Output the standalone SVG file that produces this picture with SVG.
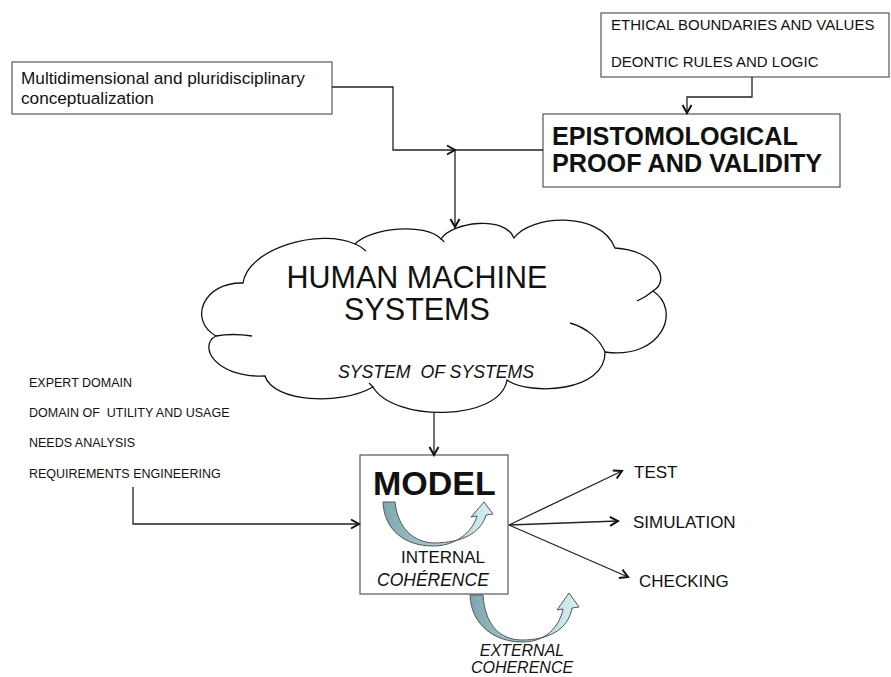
<svg xmlns="http://www.w3.org/2000/svg" width="891" height="677" viewBox="0 0 891 677">
<style>
  text { font-family: "Liberation Sans", Arial, sans-serif; fill: #111; }
  .box { fill: #fff; stroke: #555; stroke-width: 1.2; }
  .conn { fill: none; stroke: #222; stroke-width: 1.3; }
  .cloud { fill: #fff; stroke: #111; stroke-width: 1.3; }
  .tail { fill: none; stroke: #111; stroke-width: 1.3; }
  .carrow { stroke: #555; stroke-width: 1; }
</style>
<defs>
  <marker id="ah" markerUnits="userSpaceOnUse" markerWidth="12" markerHeight="12" viewBox="0 0 12 12" refX="10" refY="6" orient="auto">
    <path d="M2,1.5 L10,6 L2,10.5" fill="none" stroke="#111" stroke-width="2"/>
  </marker>
  <linearGradient id="gb" x1="0" y1="0" x2="1" y2="0">
    <stop offset="0" stop-color="#7fa6ae"/>
    <stop offset="0.5" stop-color="#a9cdd3"/>
    <stop offset="1" stop-color="#d8f0f4"/>
  </linearGradient>
</defs>

<g id="ethical">
  <rect class="box" x="601" y="13" width="288" height="64"/>
  <text x="611" y="30" font-size="15">ETHICAL BOUNDARIES AND VALUES</text>
  <text x="611" y="67" font-size="15">DEONTIC RULES AND LOGIC</text>
</g>

<g id="multidim">
  <rect class="box" x="12" y="62" width="320" height="52"/>
  <text x="21" y="84" font-size="17.2">Multidimensional and pluridisciplinary</text>
  <text x="21" y="104" font-size="17.2">conceptualization</text>
</g>

<g id="epistemo">
  <rect class="box" x="543" y="114" width="297" height="73"/>
  <text x="552" y="145" font-size="25.2" font-weight="bold">EPISTOMOLOGICAL</text>
  <text x="552" y="172" font-size="25.2" font-weight="bold">PROOF AND VALIDITY</text>
</g>

<g id="cloud">
  <path class="cloud" d="M243,283 C248,248 320,228 355,244 C370,228 425,222 441,239 C452,222 505,215 514,238 C530,215 600,210 615,248 C655,250 672,280 653,291 C682,310 662,360 605,352 C606,392 530,396 507,380 C500,422 393,422 373,387 C340,406 273,402 265,376 C214,378 198,345 216,336 C188,320 203,282 243,283 Z"/>
  <path class="tail" d="M355,244 Q361,246 366,251"/>
  <path class="tail" d="M441,239 Q443,240 444,242"/>
  <path class="tail" d="M653,291 Q646,297 637,301"/>
  <path class="tail" d="M570,323 C588,328 600,340 605,352"/>
  <path class="tail" d="M373,387 Q371,385 369,383"/>
  <path class="tail" d="M216,336 Q232,333 252,336"/>
  <text x="417" y="288" font-size="30.5" text-anchor="middle">HUMAN MACHINE</text>
  <text x="417" y="320" font-size="30.5" text-anchor="middle">SYSTEMS</text>
  <text x="436" y="378" font-size="17.7" font-style="italic" text-anchor="middle" style="white-space:pre">SYSTEM  OF SYSTEMS</text>
</g>

<g id="inputs">
  <text x="29" y="387" font-size="12.5">EXPERT DOMAIN</text>
  <text x="29" y="417" font-size="12.5" style="white-space:pre">DOMAIN OF  UTILITY AND USAGE</text>
  <text x="29" y="447" font-size="12.5">NEEDS ANALYSIS</text>
  <text x="29" y="478" font-size="12.5">REQUIREMENTS ENGINEERING</text>
</g>

<g id="model">
  <rect class="box" x="360" y="455" width="148" height="139"/>
  <text x="373" y="495" font-size="34" font-weight="bold">MODEL</text>
  <path class="carrow" fill="url(#gb)" d="M383,502 C384,530 405,546 433,546 C455,546 472,533 477,516 L471,517 L484,502 L493,514 L486,515 C481,533 462,543 433,543 C415,542 398,530 395,502 Z"/>
  <text x="401" y="563" font-size="17">INTERNAL</text>
  <text x="377" y="586" font-size="17.5" font-style="italic">COHÉRENCE</text>
</g>

<g id="external">
  <path class="carrow" fill="url(#gb)" d="M470,595 C471,625 495,642 522,642 C545,642 559,628 563,609 L557,610 L569,593 L579,607 L572,608 C568,630 548,640 522,640 C500,640 485,625 483,595 Z"/>
  <text x="522" y="656" font-size="16" font-style="italic" text-anchor="middle">EXTERNAL</text>
  <text x="522" y="673" font-size="16" font-style="italic" text-anchor="middle">COHERENCE</text>
</g>

<g id="test"><text x="634" y="478" font-size="17">TEST</text></g>
<g id="simulation"><text x="633" y="528" font-size="17">SIMULATION</text></g>
<g id="checking"><text x="639" y="587" font-size="17">CHECKING</text></g>

<g id="connectors">
  <path class="conn" d="M752,77 V97 H687 V113" marker-end="url(#ah)"/>
  <path class="conn" d="M332,87 H393 V150 H455" marker-end="url(#ah)"/>
  <path class="conn" d="M543,150 H455 V227" marker-end="url(#ah)"/>
  <path class="conn" d="M434,413 V455" marker-end="url(#ah)"/>
  <path class="conn" d="M133,487 V524 H359" marker-end="url(#ah)"/>
  <path class="conn" d="M509,525 L622,471" marker-end="url(#ah)"/>
  <path class="conn" d="M509,525 L618,521" marker-end="url(#ah)"/>
  <path class="conn" d="M509,525 L628,577" marker-end="url(#ah)"/>
</g>
</svg>
